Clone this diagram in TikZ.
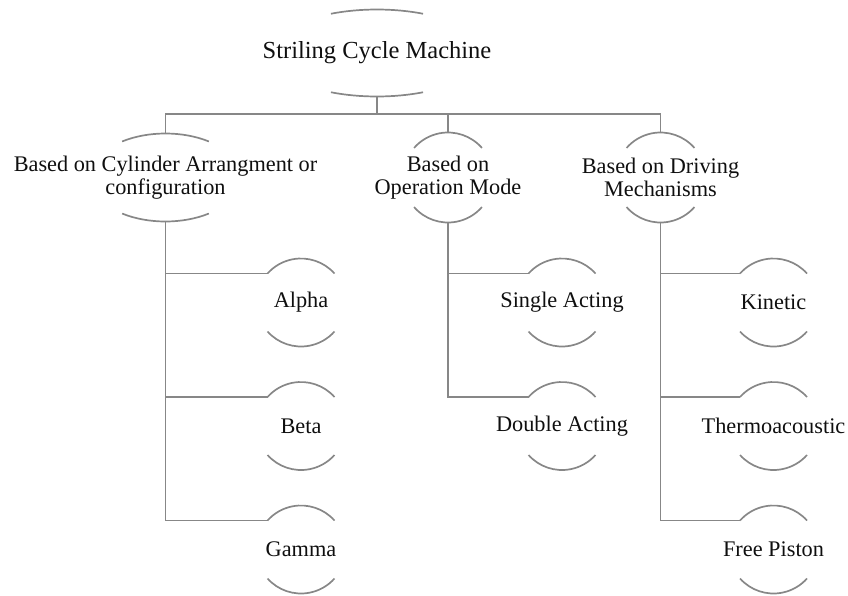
\documentclass[tikz,border=0pt]{standalone}
\usepackage{fontspec}
\setmainfont{Liberation Serif}
\usetikzlibrary{calc}
\definecolor{linegray}{RGB}{135,135,135}
\definecolor{textcol}{RGB}{15,15,15}
\newcommand\nodearcs[4]{%
  \draw[arcline] ([shift={({#2*cos(#4)},{-#3*sin(#4)})}]#1.center) arc[start angle=#4, end angle=180-#4, x radius=#2pt, y radius=#3pt];
  \draw[arcline] ([shift={({-#2*cos(#4)},{#3*sin(#4)})}]#1.center) arc[start angle=180+#4, end angle=360-#4, x radius=#2pt, y radius=#3pt];
}
\begin{document}
\begin{tikzpicture}[x=1pt,y=-1pt,
  arcline/.style={draw=linegray,line width=1.7pt},
  conn/.style={draw=linegray,line width=1.7pt},
  txt/.style={text=textcol,font=\fontsize{22.3}{23}\selectfont,align=center,inner sep=0pt,minimum height=88pt},
]
\useasboundingbox (0,0) rectangle (848,595);
% nodes
\node[txt,font=\fontsize{24.5}{26}\selectfont,minimum height=87pt] (main) at (377,53) {Striling Cycle Machine};
\node[txt,minimum height=88pt] (cyl) at (165.5,177.5) {Based on Cylinder Arrangment or\\configuration};
\node[txt,minimum height=90pt] (op) at (448,177.5) {Based on\\Operation Mode};
\node[txt,minimum height=90pt] (drv) at (660.5,177.5) {Based on Driving\\Mechanisms};
\node[txt] (alpha) at (301,302.5) {Alpha};
\node[txt] (beta) at (301,426) {Beta};
\node[txt] (gamma) at (301,549.5) {Gamma};
\node[txt] (single) at (562,302.5) {Single Acting};
\node[txt] (double) at (562,426) {Double Acting};
\node[txt] (kinetic) at (773.5,302.5) {Kinetic};
\node[txt] (thermo) at (773.5,426) {Thermoacoustic};
\node[txt] (free) at (773.5,549.5) {Free Piston};
% arcs
\nodearcs{main}{107}{43.5}{64.5}
\nodearcs{cyl}{75.6}{44}{55}
\nodearcs{op}{45}{45}{41}
\nodearcs{drv}{45}{45}{41}
\foreach \n in {alpha,beta,gamma,single,double,kinetic,thermo,free}{
  \nodearcs{\n}{44.5}{44}{41.2}
  \coordinate (\n-in) at ($(\n.center)+(-33.5,-29)$);
}
% connectors
\coordinate (bus) at (377,114);
\draw[conn] (main.south) -- (bus);
\draw[conn] (cyl.north) -- (cyl.north |- bus) -| (drv.north);
\draw[conn] (op.north) -- (op.north |- bus);
\draw[conn] (cyl.south) |- (alpha-in);
\draw[conn] (cyl.south) |- (beta-in);
\draw[conn] (cyl.south) |- (gamma-in);
\draw[conn] (op.south) |- (single-in);
\draw[conn] (op.south) |- (double-in);
\draw[conn] (drv.south) |- (kinetic-in);
\draw[conn] (drv.south) |- (thermo-in);
\draw[conn] (drv.south) |- (free-in);
\end{tikzpicture}
\end{document}
